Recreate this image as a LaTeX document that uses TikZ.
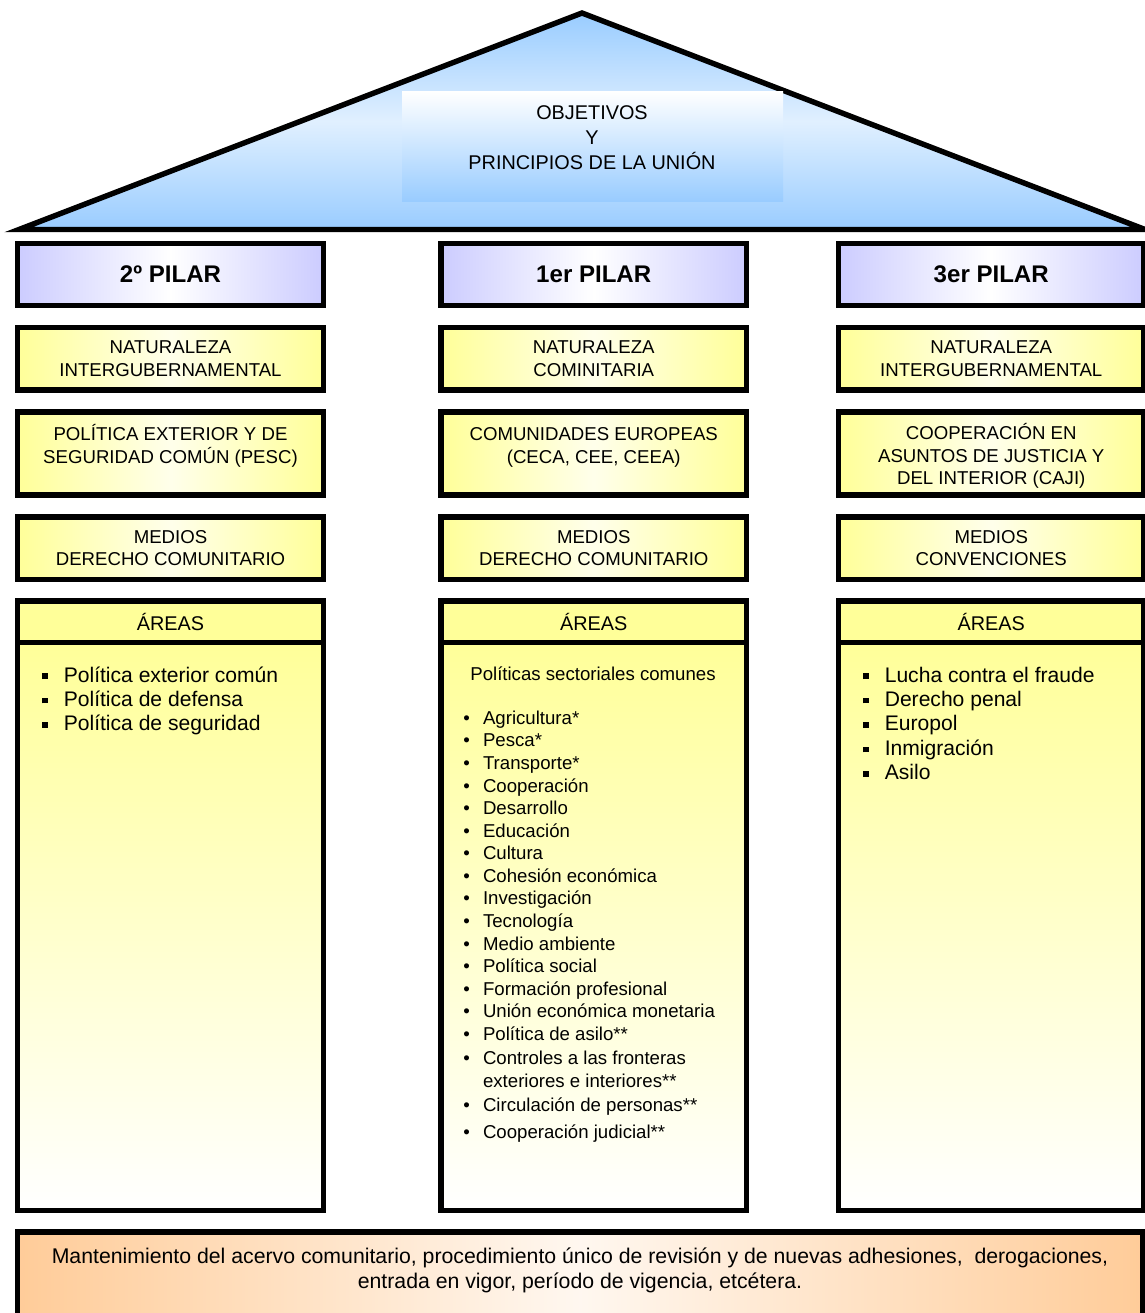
\documentclass[tikz,border=0pt]{standalone}
\usepackage{fontspec}
\setmainfont{Liberation Sans}
\usepackage{tikz}
\usetikzlibrary{positioning}

\definecolor{techo}{RGB}{153,204,255}
\definecolor{lila}{RGB}{204,204,255}
\definecolor{amarillo}{RGB}{255,255,153}
\definecolor{naranja}{RGB}{255,204,153}

\newcommand{\cuad}{\raisebox{1.7pt}{\rule{3.2pt}{3.2pt}}}

\begin{document}
\begin{tikzpicture}[x=0.02cm, y=-0.02cm,
    borde/.style={line width=3.1pt, draw=black},
    pilar/.style={borde, left color=lila, right color=lila, middle color=white},
    caja/.style={borde, left color=amarillo, right color=amarillo, middle color=amarillo!20},
    cuerpo/.style={borde, top color=amarillo, bottom color=white},
    txt/.style={align=center, inner sep=0pt, font=\fontsize{10.6}{12.8}\selectfont},
    titulo/.style={font=\fontsize{13.7}{16}\selectfont\bfseries},
    areas/.style={font=\fontsize{11.3}{13}\selectfont}]
    \useasboundingbox (0,0) rectangle (1145,1313);

    % techo
    \draw[borde, top color=techo, bottom color=techo, middle color=techo!30]
        (19,229.5) -- (582,13) -- (1145,229.5) -- cycle;
    \path[top color=white, bottom color=techo] (402,91) rectangle (783,201);
    \node[anchor=base, align=center, inner sep=0pt,
        font=\fontsize{11.3}{14.2}\selectfont] (objetivos) at (592,169.3)
        {OBJETIVOS\\Y\\PRINCIPIOS DE LA UNIÓN};

    % 2o pilar
    \begin{scope}[shift={(17.75,0)}]
        \draw[pilar] (0,243.5) rectangle (305.5,305.5) node[midway, titulo] (pilar2) {2º PILAR};
        \draw[caja] (0,327.75) rectangle (305.5,390) node[midway, txt] (nat2)
            {NATURALEZA\\INTERGUBERNAMENTAL};
        \draw[caja] (0,412) rectangle (305.5,495);
        \node[txt, anchor=base] (pesc) at (152.75,463.3)
            {POLÍTICA EXTERIOR Y DE\\SEGURIDAD COMÚN (PESC)};
        \draw[caja] (0,517) rectangle (305.5,579.5) node[midway, txt] (medios2)
            {MEDIOS\\DERECHO COMUNITARIO};
        \draw[cuerpo] (0,642.3) rectangle (305.5,1210.5);
        \draw[borde, fill=amarillo] (0,601) rectangle (305.5,642.3) node[midway, areas] (areas2) {ÁREAS};
        \node[anchor=base west, inner sep=0pt, font=\fontsize{12}{13.8}\selectfont] (lista2) at (24.25,682)
            {\begin{tabular}[t]{@{}l@{\hspace{9pt}}l@{}}
                \cuad & Política exterior común\\
                \cuad & Política de defensa\\
                \cuad & Política de seguridad
            \end{tabular}};
    \end{scope}

    % 1er pilar
    \begin{scope}[shift={(441,0)}]
        \draw[pilar] (0,243.5) rectangle (305.5,305.5) node[midway, titulo] (pilar1) {1er PILAR};
        \draw[caja] (0,327.75) rectangle (305.5,390) node[midway, txt] (nat1)
            {NATURALEZA\\COMINITARIA};
        \draw[caja] (0,412) rectangle (305.5,495);
        \node[txt, anchor=base] (ce) at (152.75,463.3)
            {COMUNIDADES EUROPEAS\\(CECA, CEE, CEEA)};
        \draw[caja] (0,517) rectangle (305.5,579.5) node[midway, txt] (medios1)
            {MEDIOS\\DERECHO COMUNITARIO};
        \draw[cuerpo] (0,642.3) rectangle (305.5,1210.5);
        \draw[borde, fill=amarillo] (0,601) rectangle (305.5,642.3) node[midway, areas] (areas1) {ÁREAS};
        \node[txt, anchor=base] (sectoriales) at (152,680) {Políticas sectoriales comunes};
        \node[anchor=base west, inner sep=0pt, font=\fontsize{10.6}{12.85}\selectfont] (lista1) at (22,724.3)
            {\begin{tabular}[t]{@{}l@{\hspace{7.5pt}}l@{}}
                \textbullet & Agricultura*\\
                \textbullet & Pesca*\\
                \textbullet & Transporte*\\
                \textbullet & Cooperación\\
                \textbullet & Desarrollo\\
                \textbullet & Educación\\
                \textbullet & Cultura\\
                \textbullet & Cohesión económica\\
                \textbullet & Investigación\\
                \textbullet & Tecnología\\
                \textbullet & Medio ambiente\\
                \textbullet & Política social\\
                \textbullet & Formación profesional\\
                \textbullet & Unión económica monetaria\\
                \textbullet & Política de asilo**\\[1pt]
                \textbullet & Controles a las fronteras\\
                            & exteriores e interiores**\\[1pt]
                \textbullet & Circulación de personas**\\[2.5pt]
                \textbullet & Cooperación judicial**
            \end{tabular}};
    \end{scope}

    % 3er pilar
    \begin{scope}[shift={(838.5,0)}]
        \draw[pilar] (0,243.5) rectangle (305.5,305.5) node[midway, titulo] (pilar3) {3er PILAR};
        \draw[caja] (0,327.75) rectangle (305.5,390) node[midway, txt] (nat3)
            {NATURALEZA\\INTERGUBERNAMENTAL};
        \draw[caja] (0,412) rectangle (305.5,495);
        \node[txt, anchor=base] (caji) at (152.75,484.5)
            {COOPERACIÓN EN\\ASUNTOS DE JUSTICIA Y\\DEL INTERIOR (CAJI)};
        \draw[caja] (0,517) rectangle (305.5,579.5) node[midway, txt] (medios3)
            {MEDIOS\\CONVENCIONES};
        \draw[cuerpo] (0,642.3) rectangle (305.5,1210.5);
        \draw[borde, fill=amarillo] (0,601) rectangle (305.5,642.3) node[midway, areas] (areas3) {ÁREAS};
        \node[anchor=base west, inner sep=0pt, font=\fontsize{12}{13.9}\selectfont] (lista3) at (24.5,682)
            {\begin{tabular}[t]{@{}l@{\hspace{9pt}}l@{}}
                \cuad & Lucha contra el fraude\\
                \cuad & Derecho penal\\
                \cuad & Europol\\
                \cuad & Inmigración\\
                \cuad & Asilo
            \end{tabular}};
    \end{scope}

    % base
    \draw[borde, left color=naranja, right color=naranja, middle color=naranja!15]
        (17.75,1232) rectangle (1142.3,1316);
    \node[anchor=base, align=center, inner sep=0pt,
        font=\fontsize{12.1}{14.2}\selectfont] (acervo) at (580,1288.3)
        {Mantenimiento del acervo comunitario, procedimiento único de revisión y de nuevas adhesiones, \ derogaciones,\\
        entrada en vigor, período de vigencia, etcétera.};

\end{tikzpicture}
\end{document}
